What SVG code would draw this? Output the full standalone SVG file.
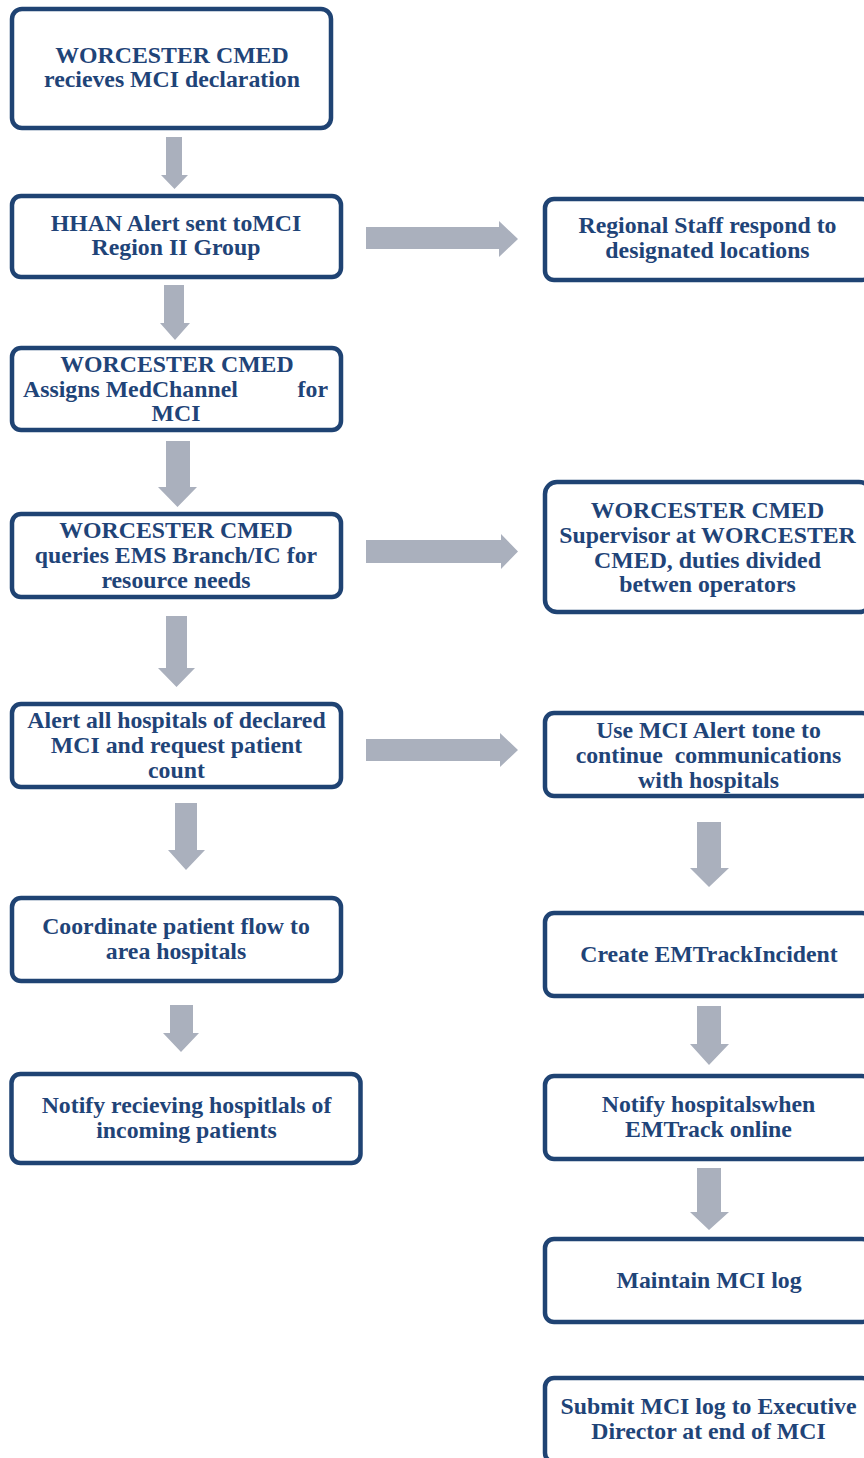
<svg xmlns="http://www.w3.org/2000/svg" width="864" height="1458" viewBox="0 0 864 1458">
<style>
.box{fill:#ffffff;stroke:#1F4373;stroke-width:4.5}
.t{font-family:"Liberation Serif","Times New Roman",serif;font-weight:bold;font-size:23.8px;fill:#1F4478;text-anchor:middle}
.ar{fill:#AAB0BD}
</style>
<rect width="864" height="1458" fill="#ffffff"/>
<g id="connectors">
<polygon class="ar" points="166,137 182,137 182,175 188,175 174.5,189 161,175 166,175"/>
<polygon class="ar" points="164,285 184,285 184,323 190,323 175,340 160,323 164,323"/>
<polygon class="ar" points="166,441 190,441 190,487 197,487 177.5,507 158,487 166,487"/>
<polygon class="ar" points="166,616 187,616 187,668 195,668 176.5,687 158,668 166,668"/>
<polygon class="ar" points="175,803 197,803 197,850 205,850 186,870 168,850 175,850"/>
<polygon class="ar" points="170,1005 193,1005 193,1033 199,1033 181,1052 163,1033 170,1033"/>
<polygon class="ar" points="697,822 721,822 721,868 729,868 709,887 690,868 697,868"/>
<polygon class="ar" points="697,1006 721,1006 721,1044 729,1044 709,1065 690,1044 697,1044"/>
<polygon class="ar" points="697,1168 721,1168 721,1212 729,1212 709,1230 690,1212 697,1212"/>
<polygon class="ar" points="366,227 499,227 499,221 518,239 499,257 499,249 366,249"/>
<polygon class="ar" points="366,540 501,540 501,534 518,551.5 501,569 501,563 366,563"/>
<polygon class="ar" points="366,739 500,739 500,733 518,750 500,767 500,761 366,761"/>
</g>
<g id="n1"><rect class="box" x="12" y="9" width="319" height="119" rx="10"/>
<text class="t" x="172" y="63">WORCESTER CMED</text><text class="t" x="172" y="87">recieves MCI declaration</text></g>
<g id="n2"><rect class="box" x="12" y="196" width="329" height="81" rx="9"/>
<text class="t" x="176" y="231">HHAN Alert sent toMCI</text><text class="t" x="176" y="255">Region II Group</text></g>
<g id="n3"><rect class="box" x="12" y="348" width="329" height="82" rx="9"/>
<text class="t" x="177" y="372">WORCESTER CMED</text>
<text class="t" y="397"><tspan x="23" style="text-anchor:start">Assigns MedChannel</tspan><tspan x="328" style="text-anchor:end">for</tspan></text>
<text class="t" x="176" y="421">MCI</text></g>
<g id="n4"><rect class="box" x="12" y="514" width="329" height="83" rx="9"/>
<text class="t" x="176" y="538">WORCESTER CMED</text><text class="t" x="176" y="563">queries EMS Branch/IC for</text><text class="t" x="176" y="588">resource needs</text></g>
<g id="n5"><rect class="box" x="12" y="704" width="329" height="83" rx="9"/>
<text class="t" x="176.5" y="728">Alert all hospitals of declared</text><text class="t" x="176.5" y="753">MCI and request patient</text><text class="t" x="176.5" y="778">count</text></g>
<g id="n6"><rect class="box" x="12" y="898" width="329" height="83" rx="9"/>
<text class="t" x="176" y="934">Coordinate patient flow to</text><text class="t" x="176" y="959">area hospitals</text></g>
<g id="n7"><rect class="box" x="11.5" y="1074" width="349" height="89" rx="9"/>
<text class="t" x="186.5" y="1113">Notify recieving hospitlals of</text><text class="t" x="186.5" y="1138">incoming patients</text></g>
<g id="r1"><rect class="box" x="545" y="199" width="326" height="81" rx="9"/>
<text class="t" x="707.5" y="233">Regional Staff respond to</text><text class="t" x="707.5" y="258">designated locations</text></g>
<g id="r2"><rect class="box" x="545" y="482" width="326" height="130" rx="12"/>
<text class="t" x="707.5" y="518">WORCESTER CMED</text><text class="t" x="707.5" y="543">Supervisor at WORCESTER</text><text class="t" x="707.5" y="568">CMED, duties divided</text><text class="t" x="707.5" y="592">betwen operators</text></g>
<g id="r3"><rect class="box" x="545" y="713" width="326" height="83" rx="9"/>
<text class="t" x="708.5" y="738">Use MCI Alert tone to</text><text class="t" x="708.5" y="763" style="white-space:pre">continue  communications</text><text class="t" x="708.5" y="788">with hospitals</text></g>
<g id="r4"><rect class="box" x="545" y="913" width="326" height="83" rx="9"/>
<text class="t" x="709" y="962">Create EMTrackIncident</text></g>
<g id="r5"><rect class="box" x="545" y="1076" width="326" height="83" rx="9"/>
<text class="t" x="708.5" y="1112">Notify hospitalswhen</text><text class="t" x="708.5" y="1137">EMTrack online</text></g>
<g id="r6"><rect class="box" x="545" y="1239" width="326" height="83" rx="9"/>
<text class="t" x="709" y="1288">Maintain MCI log</text></g>
<g id="r7"><rect class="box" x="545" y="1378" width="326" height="84" rx="9"/>
<text class="t" x="708.5" y="1414">Submit MCI log to Executive</text><text class="t" x="708.5" y="1439">Director at end of MCI</text></g>
</svg>
